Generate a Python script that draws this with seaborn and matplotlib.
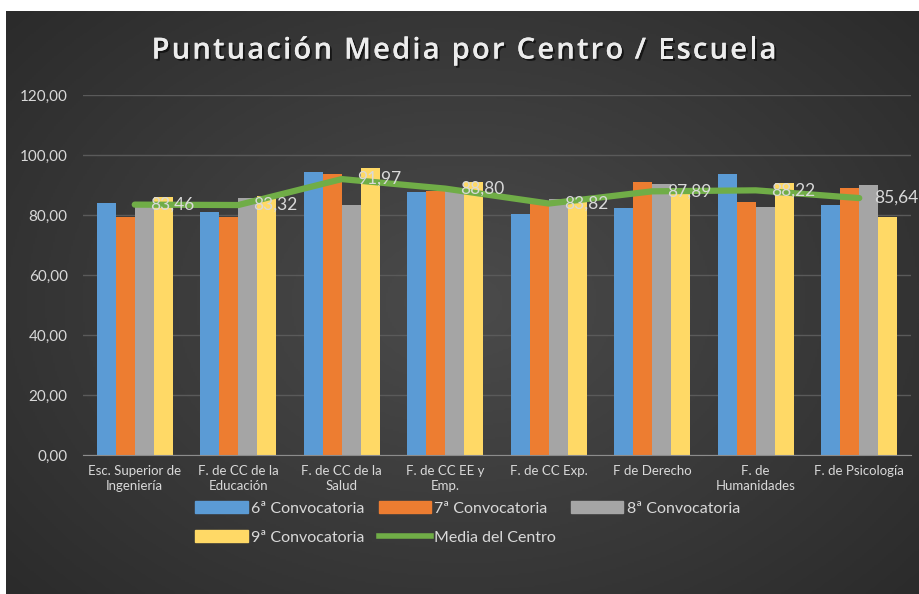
import numpy as np
import pandas as pd
import matplotlib
matplotlib.use("Agg")
import matplotlib.pyplot as plt
import seaborn as sns
from matplotlib.lines import Line2D
from matplotlib.patches import Patch
import matplotlib.patheffects as pe

# datos
categorias = ["Esc. Superior de\nIngeniería", "F. de CC de la\nEducación", "F. de CC de la\nSalud",
              "F. de CC EE y\nEmp.", "F. de CC Exp.", "F de Derecho", "F. de\nHumanidades",
              "F. de Psicología"]
conv6 = [84.1, 81.1, 94.3, 87.6, 80.5, 82.2, 93.7, 83.5]
conv7 = [79.3, 79.3, 93.6, 88.0, 84.0, 91.0, 84.5, 88.9]
conv8 = [83.6, 85.7, 83.2, 88.5, 85.4, 90.3, 82.6, 90.0]
conv9 = [86.0, 86.2, 95.6, 90.9, 85.2, 88.1, 90.7, 79.3]
media = [83.46, 83.32, 91.97, 88.80, 83.82, 87.89, 88.22, 85.64]
series = ["6ª Convocatoria", "7ª Convocatoria", "8ª Convocatoria", "9ª Convocatoria"]
colores = ["#5B9BD5", "#ED7D31", "#A5A5A5", "#FFD966"]
verde = "#70AD47"
titulo = "Puntuación Media por Centro / Escuela"

df = pd.DataFrame({"centro": categorias * 4,
                   "serie": np.repeat(series, len(categorias)),
                   "valor": conv6 + conv7 + conv8 + conv9})

fig = plt.figure(figsize=(9.2, 5.94), dpi=100)
fig.patch.set_facecolor("white")

# fondo oscuro con degradado radial
bg = fig.add_axes([6 / 920, 0, 914 / 920, 583 / 594])
yy, xx = np.mgrid[0:1:300j, 0:1:460j]
r = np.sqrt(((xx - 0.5) / 0.75) ** 2 + ((yy - 0.5) / 0.85) ** 2)
bg.imshow(np.clip(r, 0, 1), cmap=matplotlib.colors.LinearSegmentedColormap.from_list(
    "fondo", ["#4b4b4b", "#272727"]), aspect="auto", extent=[0, 1, 0, 1], vmin=0, vmax=1)
bg.axis("off")

ax = fig.add_axes([83 / 920, 139 / 594, 828 / 920, 360 / 594])
ax.set_facecolor("none")

sns.barplot(data=df, x="centro", y="valor", hue="serie", palette=colores, saturation=1,
            width=0.73, ax=ax, legend=False, zorder=2)
ax.plot(range(len(categorias)), media, color=verde, linewidth=4.5,
        solid_joinstyle="round", solid_capstyle="round", zorder=3)

for i, v in enumerate(media):
    ax.annotate(f"{v:.2f}".replace(".", ","), (i, v), xytext=(11, 0), textcoords="offset points",
                ha="left", va="center", fontsize=12.5, color="#d9d9d9", family="Lato", zorder=4)

ax.set_ylim(0, 120)
ax.set_xlim(-0.5, len(categorias) - 0.5)
ax.set_yticks(range(0, 121, 20))
ax.set_yticklabels([f"{t},00" for t in range(0, 121, 20)])
ax.yaxis.grid(True, color="#5a5a5a", linewidth=1)
ax.set_axisbelow(True)
for s in ["top", "right", "left"]:
    ax.spines[s].set_visible(False)
ax.spines["bottom"].set_color("#8c8c8c")
ax.spines["bottom"].set_zorder(5)
ax.tick_params(axis="y", length=0, labelsize=11, labelcolor="#d9d9d9", pad=11)
ax.tick_params(axis="x", length=0, labelsize=9.5, labelcolor="#d9d9d9", pad=7)
for t in ax.get_yticklabels() + ax.get_xticklabels():
    t.set_family("Lato")
for t in ax.get_xticklabels():
    t.set_linespacing(1.35)
ax.set_xlabel("")
ax.set_ylabel("")

# título con espaciado entre letras (letra a letra)
estilo = dict(fontsize=21, fontweight="semibold", family="Open Sans")
renderer = fig.canvas.get_renderer()
espacio = 2.2
anchos = []
for k in range(len(titulo) + 1):
    tmp = fig.text(0, 0, titulo[:k] + "|", **estilo)
    barra = fig.text(0, 0, "|", **estilo)
    anchos.append(tmp.get_window_extent(renderer).width - barra.get_window_extent(renderer).width)
    tmp.remove()
    barra.remove()
total = anchos[-1] + espacio * (len(titulo) - 1)
x0 = 464 - total / 2
sombra = [pe.withSimplePatchShadow(offset=(1.5, -1.5), shadow_rgbFace="black", alpha=0.6), pe.Normal()]
for k, ch in enumerate(titulo):
    if ch == " ":
        continue
    fig.text((x0 + anchos[k] + espacio * k) / 920, 0.914, ch, ha="left", va="center",
             color="#ececec", path_effects=sombra, **estilo)

# leyenda en dos filas
manejadores = [Patch(color=colores[0]), Patch(color=colores[3]), Patch(color=colores[1]),
               Line2D([], [], color=verde, linewidth=4), Patch(color=colores[2])]
etiquetas = [series[0], series[3], series[1], "Media del Centro", series[2]]
leg = fig.legend(manejadores, etiquetas, ncol=3, loc="center", bbox_to_anchor=(0.508, 0.12),
                 frameon=False, prop={"family": "Lato", "size": 11.5}, labelcolor="#d9d9d9",
                 handlelength=3.3, handleheight=0.8, handletextpad=0.2, columnspacing=0.9,
                 labelspacing=0.9)

fig.savefig("out.png", dpi=100, facecolor=fig.get_facecolor())
